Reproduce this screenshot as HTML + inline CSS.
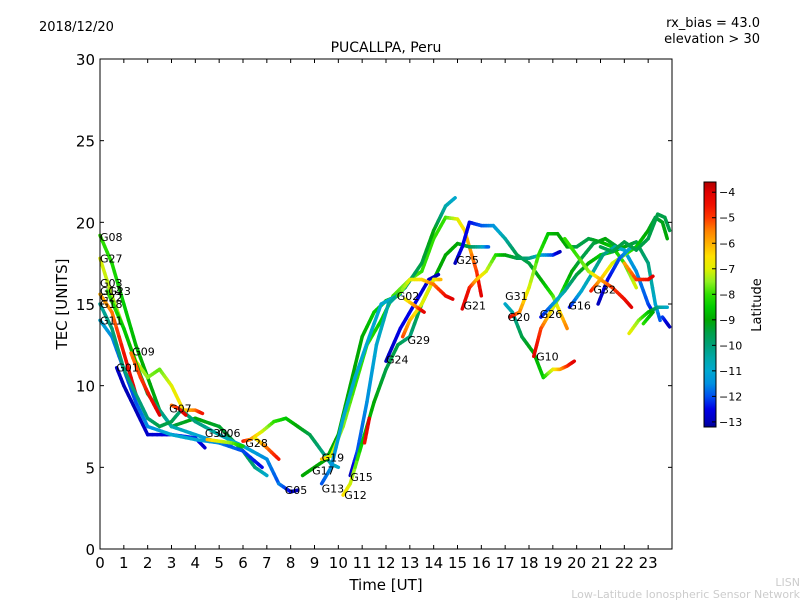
<!DOCTYPE html>
<html><head><meta charset="utf-8"><style>
body{margin:0;background:#fff;}
svg{display:block;font-family:"DejaVu Sans","Liberation Sans",sans-serif;}
</style></head><body>
<svg id="chart" width="800" height="600" viewBox="0 0 800 600">
<defs><linearGradient id="jet" x1="0" y1="1" x2="0" y2="0"></linearGradient></defs>
<text x="39" y="31" font-size="13">2018/12/20</text>
<text x="760" y="27" font-size="13" text-anchor="end">rx_bias = 43.0</text>
<text x="760" y="43" font-size="13" text-anchor="end">elevation &gt; 30</text>
<text x="386" y="52" font-size="14" text-anchor="middle">PUCALLPA, Peru</text>
<g id="tracks"></g>
<g id="labels"></g>
<rect x="100" y="59" width="572" height="490" fill="none" stroke="#000" stroke-width="1"/>
<g id="axes"></g>
<text x="386" y="590" font-size="15" text-anchor="middle">Time [UT]</text>
<text transform="translate(67,304) rotate(-90)" font-size="15" text-anchor="middle">TEC [UNITS]</text>
<rect x="704" y="182" width="12" height="245" fill="url(#jet)" stroke="#000" stroke-width="1"/>
<g id="cbticks"></g>
<text transform="translate(761,305) rotate(-90)" font-size="13" text-anchor="middle">Latitude</text>
<text x="800" y="586" font-size="11" fill="#ccc" text-anchor="end">LISN</text>
<text x="800" y="598" font-size="11" fill="#ccc" text-anchor="end">Low-Latitude Ionospheric Sensor Network</text>
</svg>
<script>
const xTicks=[0,1,2,3,4,5,6,7,8,9,10,11,12,13,14,15,16,17,18,19,20,21,22,23];
const yTicks=[0,5,10,15,20,25,30];
const cbTicks=[-4,-5,-6,-7,-8,-9,-10,-11,-12,-13];
const latMin=-13.2, latMax=-3.6;
const G08=[[0,19.2,-8],[0.5,17.5,-8.2],[1,15,-8.5],[1.5,12.5,-8.8],[2,10.5,-9],[2.5,8.5,-9.2],[3,7.5,-9.5],[4,8,-9],[5,7.5,-9.3],[6,6,-9.5],[6.5,5,-10],[7,4.5,-11]];
const G27=[[0,17.8,-7],[0.5,15.5,-7.3],[1,13.5,-7.5],[1.5,11.5,-7],[2,10.5,-7.5],[2.5,11,-7.8],[3,10,-7],[3.5,8.5,-6.5],[4,8.5,-5.5],[4.3,8.3,-4.5]];
const G03=[[0,15.6,-6],[0.5,14.5,-5.5],[1,12,-4.5],[1.5,9.5,-4]];
const G23=[[0.3,15.8,-8],[1,13.5,-8.5],[1.6,11,-9],[2,9.5,-9.5],[2.5,8.5,-10],[3,7.5,-10.5],[4,7,-11],[5,6.5,-11.5],[6,6,-12],[6.8,5,-12.5]];
const G09=[[1.3,12,-5.5],[1.7,10.5,-5],[2.1,9.3,-4.5],[2.5,8.2,-4]];
const G01=[[0.7,11.1,-12.8],[1,10,-13],[1.5,8.5,-13],[2,7,-12.8],[3,7,-12.5],[4,6.8,-12.2],[4.4,6.2,-12.8]];
const G11=[[0,14,-11],[0.5,13,-11.5],[1,11,-12],[1.5,9,-12],[2,7.5,-11.5],[3,7,-11],[4,6.7,-11],[5,6.5,-11.5],[5.5,6.3,-12]];
const G18=[[0,15,-10.5],[0.5,13.5,-10],[1,11,-10],[1.5,9.5,-10],[2,8,-10],[2.5,7.5,-9.5],[3,7.8,-9.5],[3.4,8.5,-10],[4,7.8,-10],[5,7,-10.5],[6,6.3,-11],[7,5.5,-11.5],[7.5,4,-12]];
const G07=[[3,8.8,-5.5],[3.3,8.6,-4.8],[3.6,8.2,-4]];
const G30=[[4.5,6.7,-6],[5,6.6,-7],[5.5,6.5,-7.5],[6,6.3,-8.5]];
const G28=[[6,6.6,-4.5],[6.3,6.7,-5.5],[6.8,7.2,-7],[7.3,7.8,-8],[7.8,8,-8.5],[8.3,7.5,-9],[8.8,7,-9.5],[9.3,6,-10],[9.7,5.2,-10.5],[10,5,-11]];
const G28b=[[6.5,6.8,-7],[7,6.2,-5.5],[7.5,5.5,-4.5]];
const G05=[[7.5,4,-11.5],[8,3.5,-12.5],[8.3,3.6,-13]];
const G17=[[8.5,4.5,-9],[9,5,-9],[9.5,5.5,-9],[10,7,-9],[10.5,10,-9],[11,13,-9],[11.5,14.5,-8.5],[12,15.2,-8.5],[12.5,15.5,-9]];
const G19=[[9.3,5.5,-6],[9.7,5.7,-7],[10.2,7.5,-7.5],[10.7,10,-8],[11.2,12.5,-8],[11.8,14,-8.5],[12.3,15.5,-8],[13,16.5,-7.5],[13.5,17,-8],[14,19,-8],[14.5,20.3,-8],[15,20.2,-7],[15.3,19.5,-6.5],[15.8,17,-5],[16,15.5,-4]];
const G13=[[9.3,4,-12],[9.7,5,-11.5],[10.2,8,-11],[10.7,10.5,-11],[11.3,13,-11],[11.8,15,-11],[12.2,15.3,-11],[12.6,15.6,-11.5]];
const G15=[[10.5,4.5,-13],[10.8,6,-12],[11.2,9,-11.5],[11.6,12.5,-11],[12.1,15,-10.5],[12.8,16,-10],[13.5,17.5,-9.5],[14,19.5,-9],[14.5,21,-10.5],[14.9,21.5,-11]];
const G12=[[10.2,3.3,-6.5],[10.5,4,-7],[11,6.5,-8.5],[11.5,9,-9],[12,11,-9.5],[12.5,12.5,-9.5],[13,13,-10],[13.5,15,-9.5],[14,16.5,-9],[14.5,18,-9],[15,18.7,-9],[15.5,18.5,-9.5],[16,18.5,-10.5],[16.3,18.5,-12]];
const G24=[[12,11.5,-13],[12.6,13.5,-12.5],[13.2,15,-12.5],[13.8,16.5,-12.8],[14.2,16.8,-13]];
const G29=[[12.7,13,-5],[13,14,-6],[13.5,15,-7],[14,16.5,-7],[14.3,16.5,-6]];
const G02=[[12.5,15.5,-8],[13,16.5,-7],[13.5,16.5,-6.5],[14,16.2,-5.5],[14.5,15.5,-4.5],[14.8,15.3,-4]];
const G02b=[[12.8,15.3,-7],[13.3,14.8,-5.5],[13.6,14.5,-4]];
const G25=[[14.9,17.5,-13],[15.2,18.5,-12.5],[15.5,20,-12.5],[16,19.8,-12],[16.5,19.8,-11.5],[17,19,-10.5],[17.5,18,-9.5],[18,17.5,-9.5],[18.5,16.5,-9],[19,15.5,-8],[19.3,14.5,-6.5],[19.6,13.5,-5.5]];
const G21=[[15.2,14.7,-4],[15.5,16,-4.5],[15.8,16.5,-6],[16.2,17,-7],[16.6,18,-8],[17,18,-9],[17.5,17.8,-9.5],[18,17.8,-10],[18.5,18,-11],[19,18,-12],[19.3,18.2,-13]];
const G31=[[17,15,-11],[17.3,14.5,-10.5],[17.7,13,-9.5],[18.2,12,-9],[18.6,10.5,-8.5],[19,11,-7],[19.3,11,-6],[19.6,11.2,-5],[19.9,11.5,-4]];
const G20=[[17.2,14.2,-4],[17.6,14.5,-5.5],[18,16,-7],[18.4,18,-8],[18.8,19.3,-8.5],[19.2,19.3,-9],[19.6,18.5,-9],[20,18.5,-9.5],[20.5,19,-9.5],[21,18.8,-9],[21.5,18.5,-8.5],[22,17.5,-8],[22.5,16,-7]];
const G10=[[18.2,11.8,-4],[18.5,13.5,-5],[18.9,14.5,-6.5],[19.3,15.5,-8],[19.8,17,-9],[20.2,17.8,-9.5],[20.7,18.7,-9.5],[21.2,19,-9],[21.7,18.5,-9.5]];
const G26=[[18.5,14.2,-12.5],[19,15,-11.5],[19.5,15.8,-10.5],[20,16.8,-9.5],[20.5,17.5,-9],[21,18,-8.5],[21.5,18.2,-8.5],[22,18.5,-9],[22.5,18.8,-9.5],[23,17.5,-10],[23.3,15,-11],[23.5,14,-12]];
const G16=[[19.7,14.8,-12.5],[20.2,15.8,-11],[20.7,17,-10.5],[21.1,18,-10],[21.6,18.5,-10.5],[22,18.3,-11],[22.5,17,-11.5],[23,15,-12],[23.2,14.5,-12.5]];
const G32=[[20.6,15.8,-4.5],[21,16.5,-6],[21.5,17.5,-7],[22,18,-7.5],[22.5,18.5,-8.5],[23,19.5,-9],[23.3,20.3,-9.5],[23.6,20,-9.2],[23.8,19,-9]];
const T1=[[20.9,15,-13],[21.3,16.5,-12.5],[21.8,17.8,-12],[22.3,18.5,-11]];
const T2=[[19.5,19,-8],[20,18,-8],[20.5,17,-7.5],[21,16.5,-6],[21.5,16,-5],[22,15.3,-4.5],[22.3,14.8,-4]];
const T3=[[22,17.5,-6],[22.5,16.5,-5],[23,16.5,-4.5],[23.2,16.7,-4]];
const T4=[[22.2,13.2,-6.8],[22.6,14,-7.5],[23,14.5,-8.5],[23.4,14.8,-10],[23.8,14.8,-11]];
const T5=[[22.8,13.8,-8],[23.2,14.5,-9]];
const T6=[[23.6,14.2,-12],[23.9,13.6,-13]];
const T7=[[21,18.5,-9.5],[21.5,18.2,-9.5],[22,18.8,-9.5],[22.5,18.3,-9.5],[23,19,-9.5],[23.4,20.5,-9.5],[23.7,20.3,-9.5],[23.9,19.5,-9.5]];
const T8=[[11.1,6.5,-4.5],[11.3,8,-4]];
const tracks=[G08,G27,G03,G23,G09,G01,G11,G18,G07,G30,G28,G28b,G05,G17,G19,G13,G15,G12,G24,G29,G02,G02b,G25,G21,G31,G20,G10,G26,G16,G32,T1,T2,T3,T4,T5,T6,T7,T8];
const labelNames=["G08","G27","G03","G14","G22","G23","G18","G11","G09","G01","G07","G30","G06","G28","G05","G17","G19","G13","G15","G12","G24","G29","G02","G25","G21","G31","G20","G26","G10","G16","G32"];
const labelT=[0,0,0,0,0,0.35,0,0,1.35,0.68,2.9,4.4,4.95,6.1,7.75,8.9,9.3,9.3,10.5,10.25,12.0,12.9,12.45,14.95,15.25,17.0,17.1,18.45,18.3,19.65,20.7];
const labelV=[19.1,17.8,16.3,15.8,15.4,15.8,15.0,14.0,12.1,11.1,8.6,7.1,7.1,6.5,3.6,4.8,5.6,3.7,4.4,3.3,11.6,12.8,15.5,17.7,14.9,15.5,14.2,14.4,11.8,14.9,15.9];
const cmapLat=[-13.2,-13,-12.5,-12,-11.5,-11,-10.5,-10,-9.5,-9,-8.5,-8,-7.5,-7,-6.5,-6,-5.5,-5,-4.5,-4,-3.6];
const cmapCol=["#000090","#0000b8","#0000e6","#0050f0","#0090e0","#00a8d0","#00a8a8","#00a078","#00a048","#00a800","#00cc00","#30e000","#90f020","#e0f000","#ffe000","#ffb000","#ff8000","#ff3800","#f01000","#e00000","#b00000"];
const NS="http://www.w3.org/2000/svg";
const X=t=>100+t*572/24, Y=v=>549-v*490/30;
const hex=h=>[parseInt(h.slice(1,3),16),parseInt(h.slice(3,5),16),parseInt(h.slice(5,7),16)];
function cmap(lat){lat=Math.max(cmapLat[0],Math.min(cmapLat[cmapLat.length-1],lat));
for(let i=0;i<cmapLat.length-1;i++){if(lat<=cmapLat[i+1]){const f=(lat-cmapLat[i])/(cmapLat[i+1]-cmapLat[i]);const a=hex(cmapCol[i]),b=hex(cmapCol[i+1]);
return `rgb(${a.map((v,k)=>Math.round(v+(b[k]-v)*f)).join(',')})`;}}return cmapCol[cmapCol.length-1];}
const grad=document.getElementById('jet');
cmapLat.forEach((l,i)=>{const s=document.createElementNS(NS,'stop');s.setAttribute('offset',(l-latMin)/(latMax-latMin));s.setAttribute('stop-color',cmapCol[i]);grad.appendChild(s);});
const tg=document.getElementById('tracks');
tracks.forEach((tr)=>{const g=document.createElementNS(NS,'g');


for(let i=0;i<tr.length-1;i++){const a=tr[i],b=tr[i+1];const n=5;
for(let k=0;k<n;k++){const f0=k/n,f1=(k+1)/n;const l=document.createElementNS(NS,'line');
l.setAttribute('x1',X(a[0]+(b[0]-a[0])*f0));l.setAttribute('y1',Y(a[1]+(b[1]-a[1])*f0));
l.setAttribute('x2',X(a[0]+(b[0]-a[0])*f1));l.setAttribute('y2',Y(a[1]+(b[1]-a[1])*f1));
l.setAttribute('stroke',cmap(a[2]+(b[2]-a[2])*(f0+f1)/2));l.setAttribute('stroke-width','3.5');l.setAttribute('stroke-linecap','round');
g.appendChild(l);}}
tg.appendChild(g);});
const lg=document.getElementById('labels');
labelNames.forEach((nm,i)=>{const t=document.createElementNS(NS,'text');


t.setAttribute('x',X(labelT[i]));t.setAttribute('y',Y(labelV[i])+4);t.setAttribute('font-size','11');t.textContent=nm;lg.appendChild(t);});
const ax=document.getElementById('axes');
function mk(tag,attrs,txt){const e=document.createElementNS(NS,tag);for(const k in attrs)e.setAttribute(k,attrs[k]);if(txt!==undefined)e.textContent=txt;ax.appendChild(e);return e;}
xTicks.forEach(v=>{const x=X(v);
mk('line',{x1:x,y1:549,x2:x,y2:545,stroke:'#000'});mk('line',{x1:x,y1:59,x2:x,y2:63,stroke:'#000'});
const t=mk('text',{x:x,y:568,'font-size':15,'text-anchor':'middle'},v);

});
yTicks.forEach(v=>{const y=Y(v);
mk('line',{x1:100,y1:y,x2:104,y2:y,stroke:'#000'});mk('line',{x1:672,y1:y,x2:668,y2:y,stroke:'#000'});
const t=mk('text',{x:95,y:y+6,'font-size':15,'text-anchor':'end'},v);

});
const cb=document.getElementById('cbticks');
cbTicks.forEach(v=>{const y=427-(v-latMin)/(latMax-latMin)*245;
const l=document.createElementNS(NS,'line');l.setAttribute('x1',712);l.setAttribute('x2',716);l.setAttribute('y1',y);l.setAttribute('y2',y);l.setAttribute('stroke','#000');cb.appendChild(l);
const t=document.createElementNS(NS,'text');


t.setAttribute('x',719);t.setAttribute('y',y+4);t.setAttribute('font-size','11');t.textContent='\u2212'+(-v);cb.appendChild(t);});
</script>
</body></html>
